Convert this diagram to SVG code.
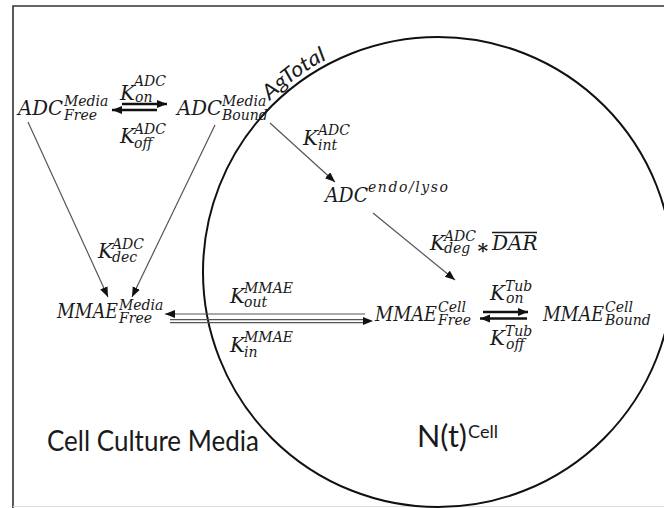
<svg xmlns="http://www.w3.org/2000/svg" width="664" height="508" viewBox="0 0 664 508">
<defs>
<style>
.b{font-family:"DejaVu Serif",serif;font-style:italic;font-size:20px;fill:#1a1a1a}
.s{font-family:"DejaVu Serif",serif;font-style:italic;font-size:14px;fill:#1a1a1a}
.lbl{font-family:Lato,"Open Sans",sans-serif;fill:#1a1a1a}
.thin{stroke:#555;stroke-width:1.2;fill:none}
.ta{marker-end:url(#ah)}
.thick{stroke:#111;stroke-width:2.4;fill:none;marker-end:url(#ahb)}
</style>
<marker id="ah" markerUnits="userSpaceOnUse" markerWidth="12" markerHeight="10" refX="10" refY="4" orient="auto">
<path d="M0,0 L10,4 L0,8 z" fill="#111"/>
</marker>
<marker id="ahb" markerUnits="userSpaceOnUse" markerWidth="12" markerHeight="10" refX="10" refY="4" orient="auto">
<path d="M0,0 L10,4 L0,8 z" fill="#111"/>
</marker>
<path id="agarc" d="M254.2,117.7 A240,240 0 0 1 558,64.2"/>
</defs>
<rect width="664" height="508" fill="#fff"/>
<path d="M664,6 H13 V508" stroke="#333" stroke-width="1.6" fill="none"/>
<line x1="13" y1="506.5" x2="664" y2="506.5" stroke="#ddd" stroke-width="1"/>

<g id="cell">
<circle cx="438" cy="272" r="235" stroke="#111" stroke-width="2" fill="none"/>
<text class="lbl" font-style="italic" font-size="21"><textPath href="#agarc" startOffset="23" textLength="71" lengthAdjust="spacingAndGlyphs">AgTotal</textPath></text>
<text class="lbl" x="417" y="447" font-size="30" textLength="50" lengthAdjust="spacingAndGlyphs">N(t)</text>
<text class="lbl" x="468" y="438" font-size="17" textLength="30" lengthAdjust="spacingAndGlyphs">Cell</text>
</g>

<g id="media-label">
<text class="lbl" x="47" y="451" font-size="28" textLength="212" lengthAdjust="spacingAndGlyphs">Cell Culture Media</text>
</g>

<g id="connectors">
<line class="thin ta" x1="28" y1="122" x2="108" y2="297"/>
<line class="thin ta" x1="215" y1="125" x2="132" y2="297"/>
<line class="thin ta" x1="270" y1="123" x2="335" y2="182"/>
<line class="thin ta" x1="373" y1="213" x2="455" y2="280"/>
<line class="thin ta" x1="365" y1="314" x2="165" y2="314"/>
<line class="thin" x1="170" y1="319.6" x2="365" y2="319.6"/>
<line class="thin" x1="170" y1="322.6" x2="365" y2="322.6"/>
<path d="M363,317 L373,321 L363,325 z" fill="#111"/>
<line class="thick" x1="122" y1="104" x2="167" y2="104"/>
<line class="thick" x1="157" y1="110" x2="112" y2="110"/>
<line class="thick" x1="483" y1="312" x2="528" y2="312"/>
<line class="thick" x1="527" y1="318.5" x2="480" y2="318.5"/>
</g>

<g id="rates">
<g id="k-on-adc"><text class="b" x="120" y="100">K</text><text class="s" x="134" y="86">ADC</text><text class="s" x="135" y="102">on</text></g>
<g id="k-off-adc"><text class="b" x="120" y="143">K</text><text class="s" x="134" y="134">ADC</text><text class="s" x="134" y="148">off</text></g>
<g id="k-int-adc"><text class="b" x="303" y="145">K</text><text class="s" x="318" y="135">ADC</text><text class="s" x="318" y="150">int</text></g>
<g id="k-dec-adc"><text class="b" x="98" y="258">K</text><text class="s" x="112" y="249">ADC</text><text class="s" x="112" y="262">dec</text></g>
<g id="k-deg-adc"><text class="b" x="430" y="250">K</text><text class="s" x="444" y="241">ADC</text><text class="s" x="444" y="253">deg</text><text x="476" y="254" font-family="DejaVu Serif,serif" font-size="20" font-weight="bold" fill="#1a1a1a">∗</text><text class="b" x="492" y="250">DAR</text><line x1="492" y1="232.5" x2="537" y2="232.5" stroke="#1a1a1a" stroke-width="1.4"/></g>
<g id="k-out-mmae"><text class="b" x="230" y="303">K</text><text class="s" x="244" y="293">MMAE</text><text class="s" x="244" y="307">out</text></g>
<g id="k-in-mmae"><text class="b" x="230" y="352">K</text><text class="s" x="244" y="342">MMAE</text><text class="s" x="244" y="357">in</text></g>
<g id="k-on-tub"><text class="b" x="490" y="300">K</text><text class="s" x="505" y="291">Tub</text><text class="s" x="506" y="303">on</text></g>
<g id="k-off-tub"><text class="b" x="490" y="345">K</text><text class="s" x="505" y="336">Tub</text><text class="s" x="506" y="349">off</text></g>
</g>

<g id="adc-media-free"><text class="b" x="18" y="115" textLength="45" lengthAdjust="spacingAndGlyphs">ADC</text><text class="s" x="64" y="106" font-size="13.5">Media</text><text class="s" x="64" y="120" font-size="13.5">Free</text></g>
<g id="adc-media-bound"><text class="b" x="177" y="115" textLength="45" lengthAdjust="spacingAndGlyphs">ADC</text><text class="s" x="222" y="106" font-size="13.5">Media</text><text class="s" x="222" y="120" font-size="13.5">Bound</text></g>
<g id="adc-endo-lyso"><text class="b" x="325" y="202" textLength="43" lengthAdjust="spacingAndGlyphs">ADC</text><text class="s" x="368" y="192" textLength="80">endo/lyso</text></g>
<g id="mmae-media-free"><text class="b" x="57" y="318" textLength="61" lengthAdjust="spacingAndGlyphs">MMAE</text><text class="s" x="119" y="310" font-size="15">Media</text><text class="s" x="119" y="323" font-size="15">Free</text></g>
<g id="mmae-cell-free"><text class="b" x="375" y="321" textLength="62" lengthAdjust="spacingAndGlyphs">MMAE</text><text class="s" x="438" y="312" font-size="15">Cell</text><text class="s" x="438" y="325" font-size="15">Free</text></g>
<g id="mmae-cell-bound"><text class="b" x="543" y="321" textLength="61" lengthAdjust="spacingAndGlyphs">MMAE</text><text class="s" x="605" y="312" font-size="15">Cell</text><text class="s" x="605" y="325" font-size="15">Bound</text></g>
</svg>
